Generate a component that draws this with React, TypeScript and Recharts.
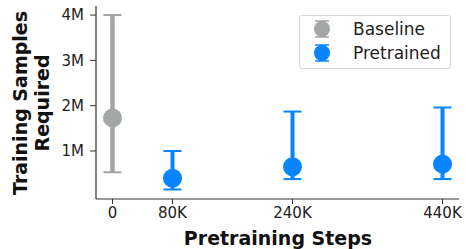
import React from 'react'
import { ScatterChart, Scatter, XAxis, YAxis, ErrorBar } from 'recharts'

// Baseline (no pretraining)
const baselineSteps = [0]
const baselineMean = [1.73e6]
const baselineLow = [0.53e6]
const baselineHigh = [4.0e6]

// Pretrained runs
const pretrainedSteps = [80000, 240000, 440000]
const pretrainedMean = [0.4e6, 0.65e6, 0.71e6]
const pretrainedLow = [0.15e6, 0.38e6, 0.38e6]
const pretrainedHigh = [1.0e6, 1.87e6, 1.96e6]

const xTicks = [0, 80000, 240000, 440000]
const yTicks = [1e6, 2e6, 3e6, 4e6]

const GRAY = '#a2a6a4'
const BLUE = '#0984ff'
const FONT = '"DejaVu Sans", sans-serif'

const build = (steps: number[], mean: number[], low: number[], high: number[]) =>
  steps.map((x, i) => ({ x, y: mean[i], err: [mean[i] - low[i], high[i] - mean[i]] }))

const baselineData = build(baselineSteps, baselineMean, baselineLow, baselineHigh)
const pretrainedData = build(pretrainedSteps, pretrainedMean, pretrainedLow, pretrainedHigh)

const dot = (color: string) => (p: any) => <circle cx={p.cx} cy={p.cy} r={9.5} fill={color} />

const fmtX = (v: number) => (v === 0 ? '0' : `${v / 1000}K`)
const fmtY = (v: number) => `${v / 1e6}M`

const legendItems = [
  { name: 'Baseline', color: GRAY },
  { name: 'Pretrained', color: BLUE },
]

const labelStyle = { fontSize: 19, fontWeight: 'bold', fill: '#111', fontFamily: FONT }

function LegendBox() {
  return (
    <div
      style={{
        position: 'absolute',
        left: 299,
        top: 15,
        width: 152,
        height: 54,
        border: '1px solid #d6d6d6',
        borderRadius: 3,
        background: '#fff',
        fontFamily: FONT,
        fontSize: 17,
        color: '#222',
        boxSizing: 'border-box',
        paddingTop: 1,
      }}
    >
      {legendItems.map(it => (
        <div key={it.name} style={{ display: 'flex', alignItems: 'center', height: 24 }}>
          <svg width={46} height={24}>
            <line x1={22} x2={22} y1={4} y2={20} stroke={it.color} strokeWidth={3} />
            <line x1={15} x2={29} y1={4} y2={4} stroke={it.color} strokeWidth={1.5} />
            <line x1={15} x2={29} y1={20} y2={20} stroke={it.color} strokeWidth={1.5} />
            <circle cx={22} cy={12} r={8} fill={it.color} />
          </svg>
          <span style={{ marginLeft: 7 }}>{it.name}</span>
        </div>
      ))}
    </div>
  )
}

export default function App() {
  const tick = { fontSize: 15, fill: '#222', fontFamily: FONT }
  return (
    <div style={{ position: 'absolute', left: 0, top: 0, width: 466, height: 249 }}>
      <ScatterChart width={466} height={249} margin={{ top: 6, right: 7, left: 0, bottom: 0 }}>
        <XAxis
          type="number"
          dataKey="x"
          domain={[-22000, 462000]}
          ticks={xTicks}
          tickFormatter={fmtX}
          allowDataOverflow
          height={50}
          tick={tick}
          tickSize={5}
          tickMargin={3}
          axisLine={{ stroke: '#333', strokeWidth: 1.2 }}
          tickLine={{ stroke: '#333' }}
          label={{
            content: () => (
              <text x={278} y={245} textAnchor="middle" style={labelStyle}>
                Pretraining Steps
              </text>
            ),
          }}
        />
        <YAxis
          type="number"
          dataKey="y"
          domain={[-0.06e6, 4.2e6]}
          ticks={yTicks}
          tickFormatter={fmtY}
          allowDataOverflow
          width={96}
          tick={tick}
          tickSize={6}
          tickMargin={6}
          axisLine={{ stroke: '#333', strokeWidth: 1.2 }}
          tickLine={{ stroke: '#333' }}
          label={{
            content: () => (
              <text transform="translate(31,103) rotate(-90)" textAnchor="middle" style={labelStyle}>
                <tspan x={0} dy={-4}>Training Samples</tspan>
                <tspan x={0} dy={22}>Required</tspan>
              </text>
            ),
          }}
        />
        <Scatter name="Baseline" data={baselineData} fill={GRAY} shape={dot(GRAY)} isAnimationActive={false}>
          <ErrorBar dataKey="err" direction="y" width={0} stroke={GRAY} strokeWidth={4.5} />
          <ErrorBar dataKey="err" direction="y" width={9} stroke={GRAY} strokeWidth={2} />
        </Scatter>
        <Scatter name="Pretrained" data={pretrainedData} fill={BLUE} shape={dot(BLUE)} isAnimationActive={false}>
          <ErrorBar dataKey="err" direction="y" width={0} stroke={BLUE} strokeWidth={4} />
          <ErrorBar dataKey="err" direction="y" width={9} stroke={BLUE} strokeWidth={2} />
        </Scatter>
      </ScatterChart>
      <LegendBox />
    </div>
  )
}
